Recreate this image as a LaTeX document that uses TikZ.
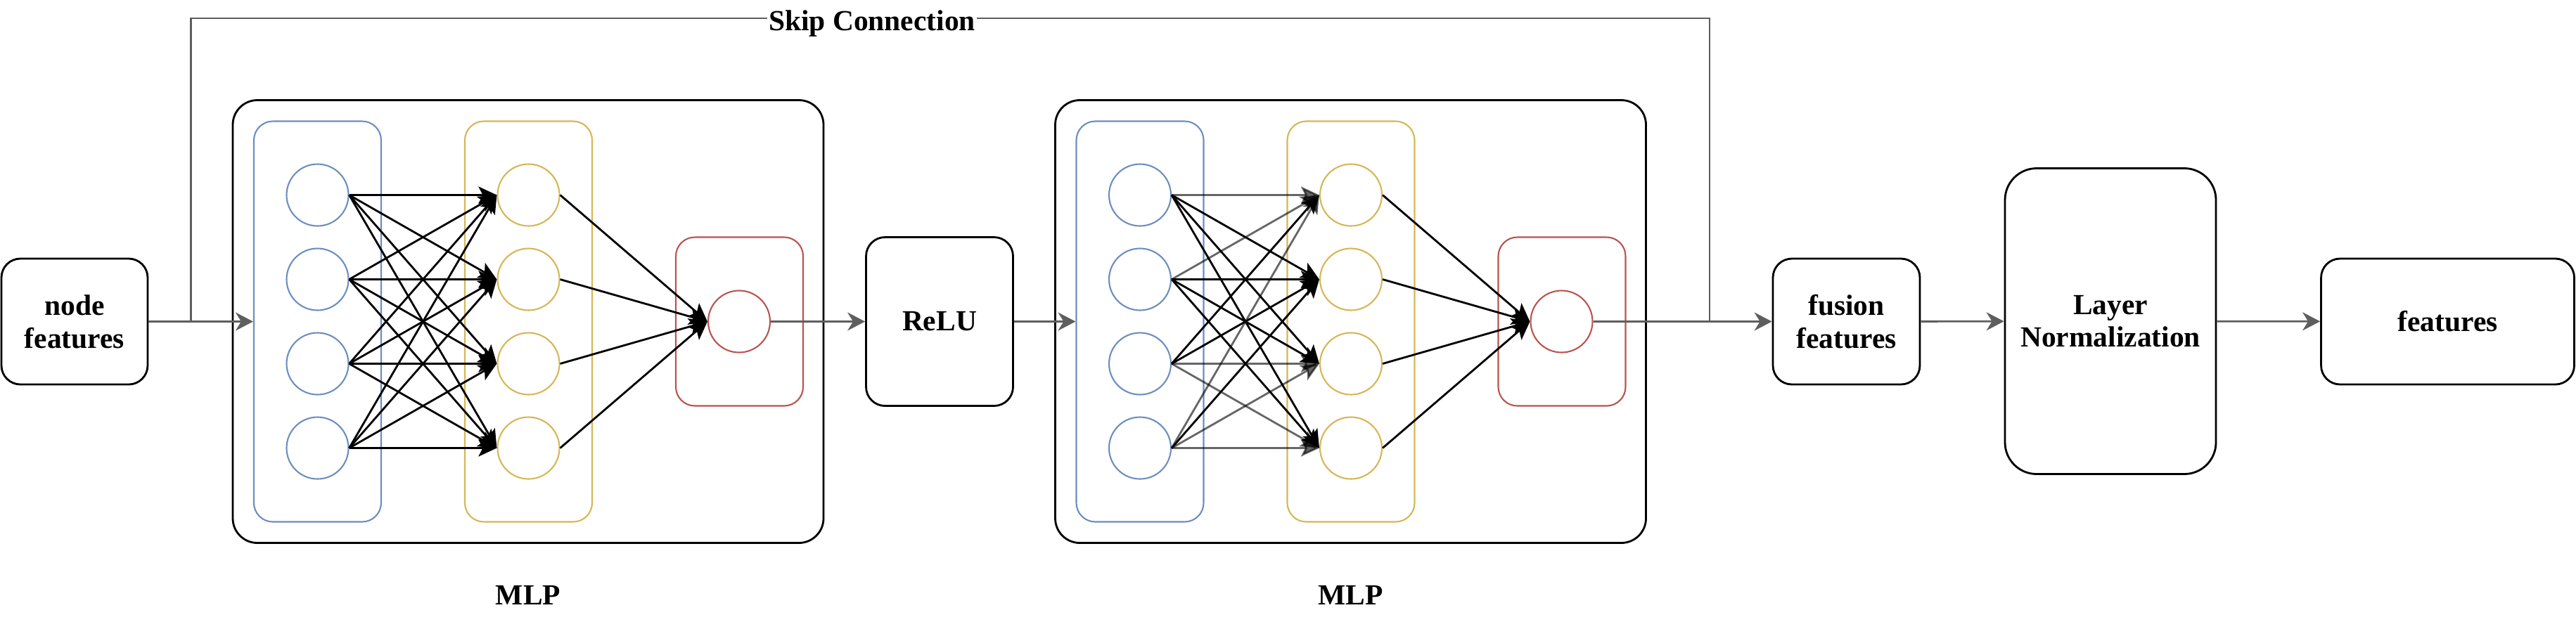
\documentclass[tikz,border=0pt]{standalone}
\usepackage{fontspec}
\setmainfont{Liberation Serif}
\usetikzlibrary{arrows.meta}
\definecolor{inblauw}{HTML}{6C8EBF}
\definecolor{verborgen}{HTML}{D6B656}
\definecolor{uitrood}{HTML}{B85450}
\definecolor{lijngrijs}{HTML}{5E5E5E}
\begin{document}
\begin{tikzpicture}[
        box/.style={draw, line width=0.8pt, rounded corners=0.27cm, align=center, inner sep=0pt,
            font=\fontsize{11.8}{13.3}\selectfont\bfseries},
        groep/.style={draw=#1, line width=0.6pt, rounded corners=0.27cm, minimum width=1.81cm, inner sep=0pt},
        neuron/.style={circle, draw=#1, line width=0.6pt, minimum size=0.88cm, inner sep=0pt},
        pijl/.style={draw=lijngrijs, line width=0.8pt, -{Stealth[length=0.25cm, width=0.26cm, inset=0.08cm]}},
        gewicht/.style={line width=0.8pt, -{Stealth[length=0.26cm, width=0.24cm, inset=0.06cm]}},
        label/.style={font=\fontsize{11.8}{13.3}\selectfont\bfseries}
    ]
                \useasboundingbox (0,0) rectangle (36.63,-8.94);

                \node[box, minimum width=2.08cm, minimum height=1.79cm] (nodefeat) at (1.06,-4.575) {node\\features};

                % twee keer hetzelfde MLP-blok
                \foreach \m/\dx in {1/0, 2/11.695} {
                    \node[draw, line width=0.8pt, rounded corners=0.35cm, minimum width=8.4cm, minimum height=6.3cm] (mlp\m) at (7.51+\dx,-4.575) {};
                    \node[groep=inblauw, minimum height=5.7cm] (blauw\m) at (4.515+\dx,-4.575) {};
                    \node[groep=verborgen, minimum height=5.7cm] (geel\m) at (7.515+\dx,-4.575) {};
                    \node[groep=uitrood, minimum height=2.4cm] (rood\m) at (10.515+\dx,-4.575) {};
                    \foreach \k/\y in {1/-2.775, 2/-3.975, 3/-5.175, 4/-6.375} {
                        \node[neuron=inblauw] (b\m-\k) at (4.515+\dx,\y) {};
                        \node[neuron=verborgen] (y\m-\k) at (7.515+\dx,\y) {};
                    }
                    \node[neuron=uitrood] (r\m) at (10.51+\dx,-4.575) {};
                    \node[label] (mlptekst\m) at (7.51+\dx,-8.466) {MLP};
                }

                % verbindingen tussen de lagen
                \foreach \i in {1,...,4} {
                    \foreach \j in {1,...,4}
                        \draw[gewicht] (b1-\i.east) -- (y1-\j.west);
                    \draw[gewicht] (y1-\i.east) -- (r1.west);
                    \draw[gewicht] (y2-\i.east) -- (r2.west);
                }
                \foreach \i/\j in {1/2, 1/3, 1/4, 2/2, 2/3, 2/4, 3/1, 3/2, 4/2}
                    \draw[gewicht] (b2-\i.east) -- (y2-\j.west);
                \foreach \i/\j in {1/1, 2/1, 4/1, 3/3, 3/4, 4/3, 4/4}
                    \draw[gewicht, draw opacity=0.6, fill opacity=0.6] (b2-\i.east) -- (y2-\j.west);

                \node[box, minimum width=2.09cm, minimum height=2.4cm] (relu) at (13.36,-4.575) {ReLU};
                \node[box, minimum width=2.09cm, minimum height=1.79cm] (fusion) at (26.255,-4.575) {fusion\\features};
                \node[box, rounded corners=0.45cm, minimum width=3cm, minimum height=4.35cm] (layernorm) at (30.01,-4.57) {Layer\\Normalization};
                \node[box, minimum width=3.6cm, minimum height=1.79cm] (features) at (34.805,-4.575) {features};

                \draw[pijl] (nodefeat) -- (blauw1);
                \draw[pijl] (r1) -- (relu);
                \draw[pijl] (relu) -- (blauw2);
                \draw[pijl] (r2) -- (fusion);
                \draw[pijl] (fusion) -- (layernorm);
                \draw[pijl] (layernorm) -- (features);

                % skip connection over beide blokken
                \coordinate (skipvan) at (2.716,-4.575);
                \coordinate (skipnaar) at (24.31,-4.575);
                \draw[draw=lijngrijs, line width=0.8pt] (skipvan) -- ++(0,4.315) -| (skipnaar);
                \node[label, fill=white, inner sep=0.5pt, anchor=base] (skiptekst) at (12.40,-0.43) {Skip Connection};
                \end{tikzpicture}
\end{document}
